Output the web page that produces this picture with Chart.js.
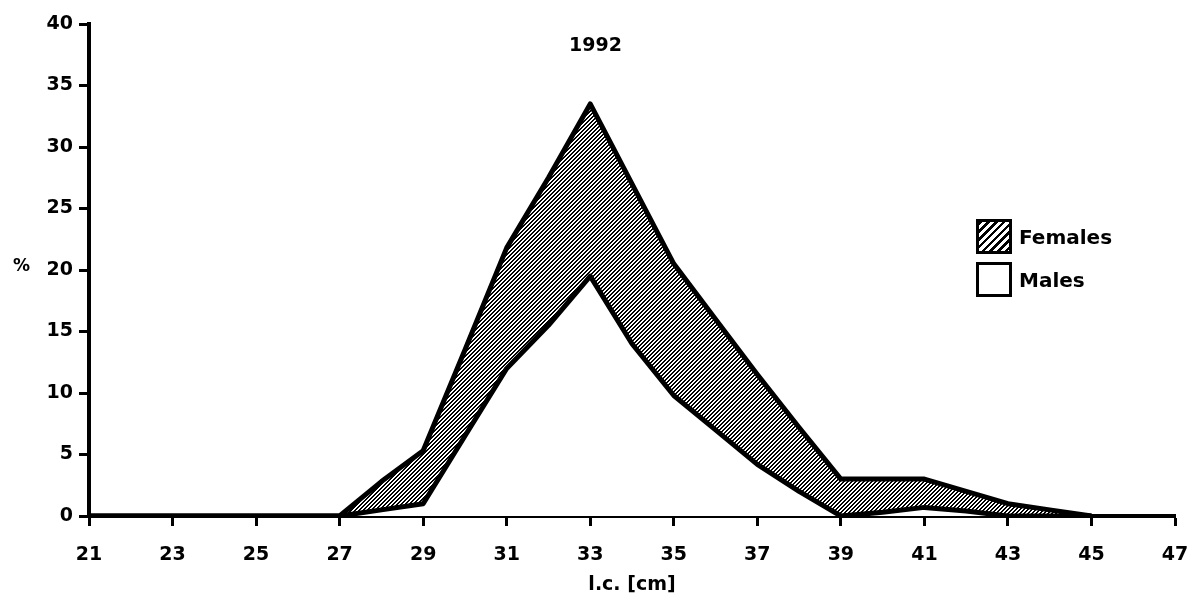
<!DOCTYPE html>
<html>
<head>
<meta charset="utf-8">
<script src="https://cdn.jsdelivr.net/npm/chart.js@4/dist/chart.umd.min.js"></script>
<style>
  html, body { margin: 0; padding: 0; background: #fff; }
  #wrap { position: relative; width: 1200px; height: 606px; }
  #chart { position: absolute; left: 0; top: 0; }
  .txt { position: absolute; font-family: "DejaVu Sans", sans-serif; font-weight: bold; color: #000; white-space: nowrap; }
  #title { left: 569px; top: 33px; font-size: 19px; }
  #pct { left: 13px; top: 255px; font-size: 17px; }
  .legend-row { position: absolute; left: 976px; display: flex; align-items: center; }
  .legend-box { width: 30px; height: 29px; border: 3px solid #000; box-sizing: content-box; background: #fff; }
  .legend-box.hatch { background: repeating-linear-gradient(135deg, #000 0 2.5px, #fff 2.5px 5.5px); }
  .legend-row span { margin-left: 7px; font-family: "DejaVu Sans", sans-serif; font-weight: bold; font-size: 20px; }
</style>
</head>
<body>
<div id="wrap">
  <canvas id="chart" width="1200" height="606"></canvas>
  <div id="title" class="txt">1992</div>
  <div id="pct" class="txt">%</div>
  <div class="legend-row" style="top:219px"><div class="legend-box hatch"></div><span>Females</span></div>
  <div class="legend-row" style="top:262px"><div class="legend-box"></div><span>Males</span></div>
</div>
<script>
// length classes (cm) and percentages
const lengthCm = [21, 22, 23, 24, 25, 26, 27, 28, 29, 30, 31, 32, 33, 34, 35, 36, 37, 38, 39, 40, 41, 42, 43, 44, 45];
const malesPct = [0, 0, 0, 0, 0, 0, 0, 0.5, 1, 6.5, 12, 15.5, 19.5, 14, 9.8, 7, 4.2, 2, 0, 0.3, 0.7, 0.4, 0, 0, 0];
const femalesPct = [0, 0, 0, 0, 0, 0, 0, 2.3, 4.3, 7, 9.8, 12, 14, 13, 10.7, 9, 7.3, 5.2, 3, 2.7, 2.3, 1.6, 1, 0.5, 0];
const xTicks = [21, 23, 25, 27, 29, 31, 33, 35, 37, 39, 41, 43, 45, 47];
const yTicks = [0, 5, 10, 15, 20, 25, 30, 35, 40];

function makeHatch() {
  const c = document.createElement('canvas');
  c.width = 4;
  c.height = 4;
  const g = c.getContext('2d');
  const img = g.createImageData(4, 4);
  for (let y = 0; y < 4; y++) {
    for (let x = 0; x < 4; x++) {
      const i = (y * 4 + x) * 4;
      const v = (x + y) % 4 < 2 ? 0 : 255;
      img.data[i] = v; img.data[i + 1] = v; img.data[i + 2] = v; img.data[i + 3] = 255;
    }
  }
  g.putImageData(img, 0, 0);
  return g.createPattern(c, 'repeat');
}

const toPoints = (vals) => vals.map((v, i) => ({ x: lengthCm[i], y: v }));
const font = { family: '"DejaVu Sans", sans-serif', weight: 'bold', size: 19 };

const ctx = document.getElementById('chart').getContext('2d');
new Chart(ctx, {
  type: 'line',
  data: {
    datasets: [
      {
        label: 'Males',
        data: toPoints(malesPct),
        borderColor: '#000',
        borderWidth: 5,
        backgroundColor: '#fff',
        fill: 'origin',
        pointRadius: 0,
        tension: 0,
        borderJoinStyle: 'round',
      },
      {
        label: 'Females',
        data: toPoints(femalesPct),
        borderColor: '#000',
        borderWidth: 5,
        backgroundColor: makeHatch(),
        fill: '-1',
        pointRadius: 0,
        tension: 0,
        borderJoinStyle: 'round',
      },
    ],
  },
  options: {
    responsive: false,
    animation: false,
    layout: { padding: { left: 10, right: 25, top: 24, bottom: 10 } },
    plugins: { legend: { display: false }, tooltip: { enabled: false } },
    scales: {
      x: {
        type: 'linear',
        min: 21,
        max: 47,
        afterFit(scale) {
          scale.height = 80;
          scale.paddingLeft = 0;
          scale.paddingRight = 0;
        },
        afterBuildTicks(scale) { scale.ticks = xTicks.map((v) => ({ value: v })); },
        ticks: { color: '#000', font, padding: 18, maxRotation: 0 },
        grid: { drawOnChartArea: false, tickLength: 10, tickWidth: 3, tickColor: '#000' },
        border: { color: '#000', width: 4 },
        title: { display: true, text: 'l.c. [cm]', color: '#000', font, padding: { top: 0, bottom: 0 } },
      },
      y: {
        stacked: true,
        min: 0,
        max: 40,
        afterFit(scale) { scale.width = 79; },
        afterBuildTicks(scale) { scale.ticks = yTicks.map((v) => ({ value: v })); },
        ticks: { color: '#000', font, padding: 6 },
        grid: { drawOnChartArea: false, tickLength: 10, tickWidth: 3, tickColor: '#000' },
        border: { color: '#000', width: 4 },
      },
    },
  },
});
</script>
</body>
</html>
